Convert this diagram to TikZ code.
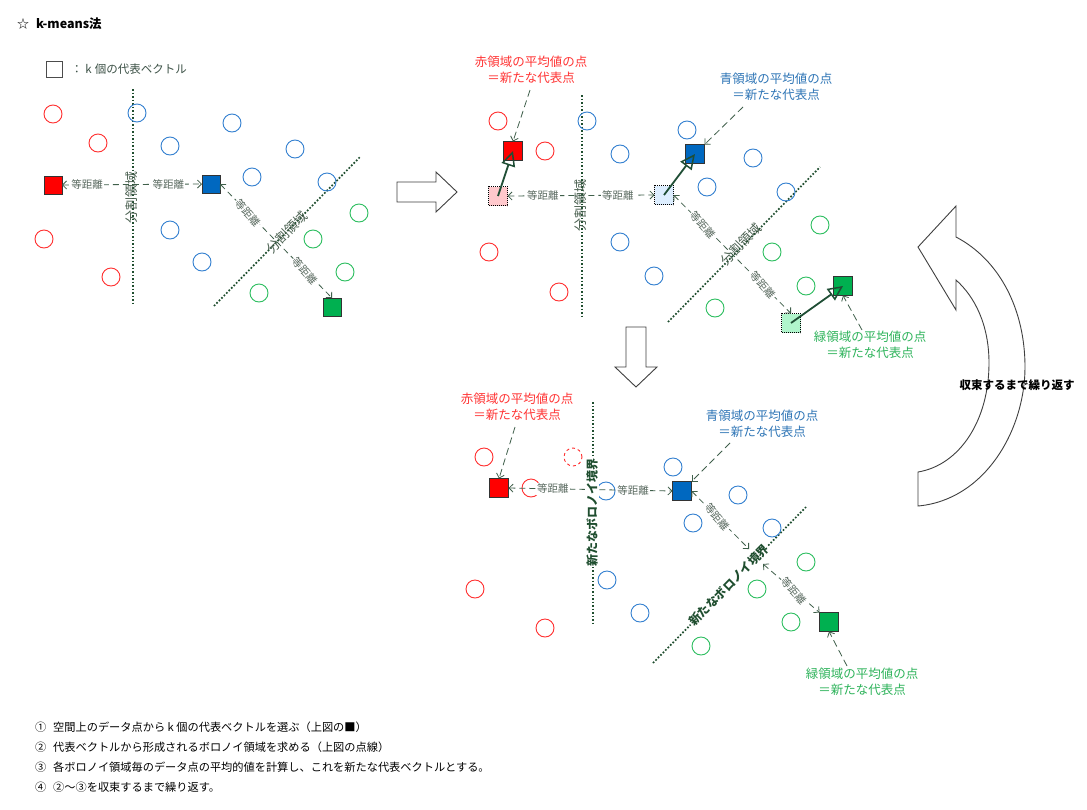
\documentclass[tikz,border=0pt]{standalone}
\usepackage{fontspec}
\setmainfont{Noto Sans CJK JP}
\usetikzlibrary{arrows.meta}
\definecolor{cRed}{HTML}{FF3030}
\definecolor{cBlue}{HTML}{3380D0}
\definecolor{cGreen}{HTML}{2DBE60}
\definecolor{sRed}{HTML}{FF0000}
\definecolor{sBlue}{HTML}{0068C0}
\definecolor{sGreen}{HTML}{00B050}
\definecolor{oRed}{HTML}{FFC8CC}
\definecolor{oBlue}{HTML}{DDEEFF}
\definecolor{oGreen}{HTML}{B0F5CC}
\definecolor{cBound}{HTML}{1F4E2F}
\definecolor{cDash}{HTML}{3F5F4A}
\definecolor{cLab}{HTML}{5A6A60}
\definecolor{cBLab}{HTML}{4A6050}
\definecolor{cLeg}{HTML}{3D5247}
\definecolor{cRedT}{HTML}{FF3333}
\definecolor{cBlueT}{HTML}{2E75B6}
\definecolor{cGreenT}{HTML}{2DB35A}
\definecolor{cMove}{HTML}{1F4E35}
\definecolor{cArr}{HTML}{404040}
\begin{document}
\begin{tikzpicture}[x=1pt,y=-1pt,
  every node/.style={inner sep=0pt, outer sep=0pt},
  pt/.style={circle, minimum size=18pt, line width=0.9pt},
  rpt/.style={pt, draw=cRed},
  bpt/.style={pt, draw=cBlue},
  gpt/.style={pt, draw=cGreen},
  sq/.style={rectangle, minimum size=18pt, draw=black!80, line width=0.9pt},
  oldsq/.style={rectangle, minimum size=18pt, draw=black, line width=0.8pt, dash pattern=on 1pt off 1pt},
  bound/.style={draw=cBound, line width=1.7pt, dash pattern=on 1.7pt off 1.8pt},
  eqarrow/.style={draw=cDash, line width=0.8pt, dash pattern=on 6pt off 4pt, {Straight Barb[length=4pt,width=8pt]}-{Straight Barb[length=4pt,width=8pt]}},
  eqlab/.style={fill=white, inner sep=1pt, text=cLab, font=\fontsize{10.5}{11}\selectfont},
  blab/.style={text=cBLab, font=\fontsize{13}{14}\selectfont},
  nblab/.style={fill=white, inner sep=1pt, text=cBound, font=\bfseries\fontsize{12}{13}\selectfont},
  move/.style={draw=cMove, line width=1.8pt, -{Triangle[open, length=15pt, width=14pt, line width=1.5pt]}},
  callout/.style={align=center, font=\fontsize{12.5}{15.5}\selectfont},
  leader/.style={draw=cDash, line width=0.8pt, dash pattern=on 7pt off 4pt, -{Straight Barb[length=4pt,width=8pt]}},
  bigarrow/.style={draw=cArr, fill=white, line width=0.9pt, line join=miter},
  note/.style={anchor=west, font=\fontsize{11.2}{13}\selectfont}
]
\path[use as bounding box, fill=white] (0,0) rectangle (1087,809);

% title and legend
\node[anchor=west, font=\fontsize{12}{14}\selectfont] (star) at (17,24) {☆};
\node[anchor=west, font=\bfseries\fontsize{12.5}{14}\selectfont] (title) at (36,24) {k-means法};
\node[sq, draw=black!70, fill=white, minimum size=16pt] (legsq) at (54,69) {};
\node[anchor=west, text=cLeg, font=\fontsize{11.5}{13}\selectfont] (legtxt) at (71,69) {：\hspace{3pt}k\hspace{3pt}個の代表ベクトル};

% ================= panel 1 =================
\coordinate (p1-v1) at (133,89);
\coordinate (p1-v2) at (133,303);
\coordinate (p1-d1) at (214,306);
\coordinate (p1-d2) at (360,157);
\draw[bound] (p1-v1) -- (p1-v2);
\draw[bound] (p1-d1) -- (p1-d2);
\foreach \x/\y [count=\i] in {53/114, 98/143, 44/239, 111/277}
  \node[rpt] (p1-r\i) at (\x,\y) {};
\foreach \x/\y [count=\i] in {137/113, 232/123, 170/146, 295/149, 252/177, 327/182, 170/230, 202/262}
  \node[bpt] (p1-b\i) at (\x,\y) {};
\foreach \x/\y [count=\i] in {359/213, 313/239, 345/272, 259/293}
  \node[gpt] (p1-g\i) at (\x,\y) {};
\node[sq, fill=sRed] (p1-rs) at (53,185) {};
\node[sq, fill=sBlue] (p1-bs) at (211,184) {};
\node[sq, fill=sGreen] (p1-gs) at (332,307) {};
\node[blab, rotate=90] (p1-vl) at (132,197) {分割領域};
\node[blab, rotate=45.6] (p1-dl) at (287,232) {分割領域};
\draw[eqarrow] (p1-rs.east) -- node[eqlab, pos=0.18] (p1-e1) {等距離} node[eqlab, pos=0.76] (p1-e2) {等距離} (p1-bs.west);
\draw[eqarrow] (p1-bs.east) -- node[eqlab, pos=0.25, rotate=-50] (p1-e3) {等距離} node[eqlab, pos=0.76, rotate=-50] (p1-e4) {等距離} (p1-gs.north);

% right block arrow
\draw[bigarrow] (397,182) -- (436,182) -- (436,172) -- (457,192) -- (436,212) -- (436,202) -- (397,202) -- cycle;

% ================= panel 2 =================
\coordinate (p2-v1) at (582,95);
\coordinate (p2-v2) at (582,318);
\coordinate (p2-d1) at (668,322);
\coordinate (p2-d2) at (820,167);
\draw[bound] (p2-v1) -- (p2-v2);
\draw[bound] (p2-d1) -- (p2-d2);
\foreach \x/\y [count=\i] in {498/121, 545/151, 489/252, 559/292}
  \node[rpt] (p2-r\i) at (\x,\y) {};
\foreach \x/\y [count=\i] in {587/121, 620/154, 687/130, 753/158, 707/187, 786/192, 620/242, 654/276}
  \node[bpt] (p2-b\i) at (\x,\y) {};
\foreach \x/\y [count=\i] in {820/225, 772/252, 806/286, 715/308}
  \node[gpt] (p2-g\i) at (\x,\y) {};
\node[blab, rotate=90] (p2-vl) at (581,205) {分割領域};
\node[blab, rotate=45.6] (p2-dl) at (741,244) {分割領域};
\node[oldsq, fill=oRed, minimum size=19pt] (p2-ro) at (498,196) {};
\node[oldsq, fill=oBlue, minimum size=19pt] (p2-bo) at (664,195) {};
\node[oldsq, fill=oGreen, minimum size=19pt] (p2-go) at (791,323) {};
\node[sq, fill=sRed, minimum size=19pt] (p2-rs) at (513,151) {};
\node[sq, fill=sBlue, minimum size=19pt] (p2-bs) at (695,154) {};
\node[sq, fill=sGreen, minimum size=19pt] (p2-gs) at (843,286) {};
\draw[eqarrow] (p2-ro.east) -- node[eqlab, pos=0.24] (p2-e1) {等距離} node[eqlab, pos=0.75] (p2-e2) {等距離} (p2-bo.west);
\draw[eqarrow] (p2-bo.east) -- node[eqlab, pos=0.25, rotate=-50] (p2-e3) {等距離} node[eqlab, pos=0.76, rotate=-50] (p2-e4) {等距離} (p2-go.north);
\draw[move] (p2-ro.center) -- (p2-rs.center);
\draw[move] (p2-bo.center) -- (p2-bs.center);
\draw[move] (p2-go.center) -- (p2-gs.center);
\node[callout, text=cRedT] (p2-rc) at (531,70) {赤領域の平均値の点\\＝新たな代表点};
\node[callout, text=cBlueT] (p2-bc) at (776,87) {青領域の平均値の点\\＝新たな代表点};
\node[callout, text=cGreenT] (p2-gc) at (870,345) {緑領域の平均値の点\\＝新たな代表点};
\coordinate (p2-rl) at (530,90);
\coordinate (p2-bl) at (743,107);
\coordinate (p2-gl) at (862,330);
\draw[leader] (p2-rl) -- (p2-rs.north);
\draw[leader] (p2-bl) -- (p2-bs.north east);
\draw[leader] (p2-gl) -- (p2-gs.south);

% down block arrow
\draw[bigarrow] (626,327) -- (646,327) -- (646,367) -- (657,367) -- (636,387) -- (615,367) -- (626,367) -- cycle;

% ================= panel 3 =================
\coordinate (p3-v1) at (593,402);
\coordinate (p3-v2) at (593,625);
\coordinate (p3-d1) at (653,663);
\coordinate (p3-d2) at (806,507);
\draw[bound] (p3-v1) -- (p3-v2);
\draw[bound] (p3-d1) -- (p3-d2);
\foreach \x/\y [count=\i] in {484/457, 531/488, 475/589, 545/628}
  \node[rpt] (p3-r\i) at (\x,\y) {};
\node[rpt, dashed] (p3-rd) at (573,457) {};
\foreach \x/\y [count=\i] in {673/467, 738/495, 693/523, 772/528, 606/491, 607/580, 640/613}
  \node[bpt] (p3-b\i) at (\x,\y) {};
\foreach \x/\y [count=\i] in {806/562, 757/589, 791/622, 701/646}
  \node[gpt] (p3-g\i) at (\x,\y) {};
\node[sq, fill=sRed, minimum size=19pt] (p3-rs) at (499,488) {};
\node[sq, fill=sBlue, minimum size=19pt] (p3-bs) at (682,491) {};
\node[sq, fill=sGreen, minimum size=19pt] (p3-gs) at (829,622) {};
\coordinate (p3-m1) at (749,549);
\coordinate (p3-m2) at (763,564);
\draw[eqarrow] (p3-rs.east) -- node[eqlab, pos=0.27] (p3-e1) {等距離} node[eqlab, pos=0.76] (p3-e2) {等距離} (p3-bs.west);
\draw[eqarrow] (p3-bs.east) -- node[eqlab, pos=0.45, rotate=-50] (p3-e3) {等距離} (p3-m1);
\draw[eqarrow] (p3-m2) -- node[eqlab, pos=0.55, rotate=-50] (p3-e4) {等距離} (p3-gs.north west);
\node[nblab, rotate=90] (p3-vl) at (592,512) {新たなボロノイ境界};
\node[nblab, rotate=45.6] (p3-dl) at (729,585) {新たなボロノイ境界};
\node[callout, text=cRedT] (p3-rc) at (517,407) {赤領域の平均値の点\\＝新たな代表点};
\node[callout, text=cBlueT] (p3-bc) at (762,424) {青領域の平均値の点\\＝新たな代表点};
\node[callout, text=cGreenT] (p3-gc) at (862,682) {緑領域の平均値の点\\＝新たな代表点};
\coordinate (p3-rl) at (515,427);
\coordinate (p3-bl) at (730,443);
\coordinate (p3-gl) at (847,666);
\draw[leader] (p3-rl) -- (p3-rs.north);
\draw[leader] (p3-bl) -- (p3-bs.north east);
\draw[leader] (p3-gl) -- (p3-gs.south);

% curved block arrow
\draw[bigarrow] (918,247) -- (956,206) -- (956,237)
  .. controls (1000,260) and (1025,310) .. (1025,367)
  .. controls (1025,430) and (985,500) .. (918,506)
  -- (918,472)
  .. controls (960,465) and (989,420) .. (989,363)
  .. controls (989,325) and (975,297) .. (956,280)
  -- (956,310) -- cycle;
\node[font=\bfseries\fontsize{11.5}{13}\selectfont] (loop) at (1017,385) {収束するまで繰り返す};

% notes
\node[note] (n1) at (35,727) {①\hspace{7pt}空間上のデータ点から k 個の代表ベクトルを選ぶ（上図の■）};
\node[note] (n2) at (35,747) {②\hspace{7pt}代表ベクトルから形成されるボロノイ領域を求める（上図の点線）};
\node[note] (n3) at (35,767) {③\hspace{7pt}各ボロノイ領域毎のデータ点の平均的値を計算し、これを新たな代表ベクトルとする。};
\node[note] (n4) at (35,787) {④\hspace{7pt}②～③を収束するまで繰り返す。};
\end{tikzpicture}
\end{document}
